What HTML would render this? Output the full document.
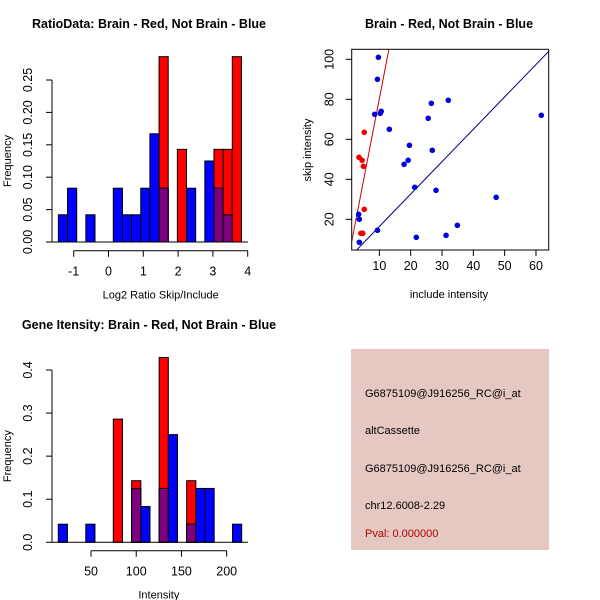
<!DOCTYPE html>
<html><head><meta charset="utf-8">
<style>
html,body{margin:0;padding:0;background:#fff;}
svg{display:block;font-family:"Liberation Sans",Arial,sans-serif;}
</style></head>
<body>
<svg id="c" width="600" height="600" viewBox="0 0 600 600">
<rect width="600" height="600" fill="#fff"/>
<g id="p1"></g>
<g id="p2"></g>
<g id="p3"></g>
<g id="p4">
<rect x="351" y="349" width="198" height="201" fill="#E6C8C2"/>
<text x="365" y="397" font-size="11" fill="#000">G6875109@J916256_RC@i_at</text>
<text x="365" y="434" font-size="11" fill="#000">altCassette</text>
<text x="365" y="472" font-size="11" fill="#000">G6875109@J916256_RC@i_at</text>
<text x="365" y="509" font-size="11" fill="#000">chr12.6008-2.29</text>
<text x="365" y="537" font-size="11" fill="#b00000">Pval: 0.000000</text>
</g>
</svg>
<script>
// ---- Panel 1: Ratio histogram data ----
const ratioBinStart = -1.44;
const ratioBinWidth = 0.263;
const ratioBlueBins = [0,1,3,6,7,8,9,10,11,14,16,17,18];
const ratioBlueFreq = [0.042,0.083,0.042,0.083,0.042,0.042,0.083,0.167,0.083,0.083,0.125,0.083,0.042];
const ratioRedBins = [11,13,17,18,19];
const ratioRedFreq = [0.286,0.143,0.143,0.143,0.286];
const ratioXTicks = [-1,0,1,2,3,4];
const ratioYTicks = ["0.00","0.05","0.10","0.15","0.20","0.25"];

// ---- Panel 2: scatter data ----
const blueInclude = [9.7,9.4,8.5,10.3,10.6,13.2,25.6,26.6,32,19.6,19.2,17.9,26.9,21.3,28.1,47.3,61.7,34.9,31.3,21.8,9.4,3.4,3.6,3.6];
const blueSkip =    [101,90,72.5,73,74,65,70.5,78,79.5,57,49.5,47.5,54.5,36,34.5,31,72,17,12,11,14.5,22.5,20,8.5];
const redInclude = [5.2,3.5,4.5,4.9,5.2,4.1,4.7];
const redSkip =    [63.5,51,49.5,46.5,25,13,13];
const fitSlopes = [1.62,8.1];
const fitIntercepts = [0.2,-0.7];
const scatterXTicks = [10,20,30,40,50,60];
const scatterYTicks = [20,40,60,80,100];

// ---- Panel 3: Intensity histogram data ----
const intBinStart = 13.8;
const intBinWidth = 10.14;
const intBlueBins = [0,3,8,9,11,12,14,15,16,19];
const intBlueFreq = [0.042,0.042,0.125,0.083,0.125,0.25,0.042,0.125,0.125,0.042];
const intRedBins = [6,8,11,14];
const intRedFreq = [0.286,0.143,0.429,0.143];
const intXTicks = [50,100,150,200];
const intYTicks = ["0.0","0.1","0.2","0.3","0.4"];

const NS="http://www.w3.org/2000/svg";
function mk(parent,tag,attrs,txt){const e=document.createElementNS(NS,tag);for(const k in attrs)e.setAttribute(k,attrs[k]);if(txt!==undefined)e.textContent=txt;parent.appendChild(e);return e;}

function histogram(g,o){
  const sx=v=>o.x0+(v-o.xv0)*o.xk, sy=v=>o.y0-v*o.yk;
  const blue={},red={};
  o.bb.forEach((b,i)=>blue[b]=o.bf[i]);
  o.rb.forEach((b,i)=>red[b]=o.rf[i]);
  const bins=new Set([...o.bb,...o.rb]);
  bins.forEach(b=>{
    const l=sx(o.bs+b*o.bw), r=sx(o.bs+(b+1)*o.bw);
    const hb=blue[b]||0, hr=red[b]||0;
    if(hr>0){const e=mk(g,'rect',{x:l,y:sy(hr),width:r-l,height:sy(0)-sy(hr),fill:'#ff0000',stroke:'#000','stroke-width':1});
      
      }
    if(hb>0){const e=mk(g,'rect',{x:l,y:sy(hb),width:r-l,height:sy(0)-sy(hb),fill:'#0000ff',stroke:'#000','stroke-width':1});
      
      }
    if(hb>0&&hr>0){const m=Math.min(hb,hr);const e=mk(g,'rect',{x:l,y:sy(m),width:r-l,height:sy(0)-sy(m),fill:'#7f007f',stroke:'#000','stroke-width':1});
      
      }
  });
  const yv=o.yt.map(Number);
  const ya=mk(g,'line',{x1:o.yx,x2:o.yx,y1:sy(yv[0]),y2:sy(yv[yv.length-1]),stroke:'#000'});
  
  
  o.yt.forEach(t=>{const y=sy(Number(t));mk(g,'line',{x1:o.yx-6,x2:o.yx,y1:y,y2:y,stroke:'#000'});
    const lx=o.yx-20;
    const e=mk(g,'text',{x:lx,y:y,'font-size':12.5,'text-anchor':'middle',transform:`rotate(-90 ${lx} ${y})`},t);
    
    });
  const xa=mk(g,'line',{x1:sx(o.xt[0]),x2:sx(o.xt[o.xt.length-1]),y1:o.xy,y2:o.xy,stroke:'#000'});
  
  
  o.xt.forEach(t=>{const x=sx(t);mk(g,'line',{x1:x,x2:x,y1:o.xy,y2:o.xy+6,stroke:'#000'});
    const e=mk(g,'text',{x:x,y:o.xy+25,'font-size':12.5,'text-anchor':'middle'},String(t));
    
    });
  mk(g,'line',{x1:o.bl0,x2:o.bl1,y1:sy(0),y2:sy(0),stroke:'#000'});
  const t=mk(g,'text',{x:o.tx,y:o.ty,'font-size':12.5,'font-weight':'bold','text-anchor':'middle'},o.title);
  
  
  const xl=mk(g,'text',{x:(sx(o.xt[0])+sx(o.xt[o.xt.length-1]))/2,y:o.xy+48,'font-size':11,'text-anchor':'middle'},o.xlab);
  
  
  const yc=o.y0-(o.y0-sy(yv[yv.length-1]))/2;
  const yl=mk(g,'text',{x:11,y:yc,'font-size':11,'text-anchor':'middle',transform:`rotate(-90 11 ${yc})`},'Frequency');
  
  
}

histogram(document.getElementById('p1'),{x0:73.7,xv0:-1,xk:34.8,y0:242,yk:648,
  bs:ratioBinStart,bw:ratioBinWidth,bb:ratioBlueBins,bf:ratioBlueFreq,rb:ratioRedBins,rf:ratioRedFreq,
  xt:ratioXTicks,yt:ratioYTicks,yx:52,xy:250.7,bl0:52,bl1:248,tx:149,ty:28,
  title:'RatioData: Brain - Red, Not Brain - Blue',xlab:'Log2 Ratio Skip/Include'});

histogram(document.getElementById('p3'),{x0:45.8,xv0:0,xk:0.9044,y0:542.3,yk:430.8,
  bs:intBinStart,bw:intBinWidth,bb:intBlueBins,bf:intBlueFreq,rb:intRedBins,rf:intRedFreq,
  xt:intXTicks,yt:intYTicks,yx:52,xy:550.7,bl0:52,bl1:248,tx:149,ty:329,
  title:'Gene Itensity: Brain - Red, Not Brain - Blue',xlab:'Intensity'});

(function(){
  const g=document.getElementById('p2');
  const L=351.7,R=548.7,T=49.3,B=250;
  const xmin=1.18,xmax=64.06,ymin=4.65,ymax=105;
  const sx=v=>L+(v-xmin)/(xmax-xmin)*(R-L), sy=v=>B-(v-ymin)/(ymax-ymin)*(B-T);
  const defs=mk(g,'clipPath',{id:'clip'});mk(defs,'rect',{x:L,y:T,width:R-L,height:B-T});
  const cols=['#00008b','#cc0000'];
  fitSlopes.forEach((m,i)=>{const b=fitIntercepts[i];
    const e=mk(g,'line',{x1:sx(xmin),y1:sy(m*xmin+b),x2:sx(xmax),y2:sy(m*xmax+b),stroke:cols[i],'stroke-width':1,'clip-path':'url(#clip)'});
    
    });
  blueInclude.forEach((v,i)=>{const e=mk(g,'circle',{cx:sx(v),cy:sy(blueSkip[i]),r:2.8,fill:'#0000dd'});
    
    });
  redInclude.forEach((v,i)=>{const e=mk(g,'circle',{cx:sx(v),cy:sy(redSkip[i]),r:2.8,fill:'#ee0000'});
    
    });
  const box=mk(g,'rect',{x:L,y:T,width:R-L,height:B-T,fill:'none',stroke:'#000'});
  
  
  scatterXTicks.forEach(t=>{const x=sx(t);mk(g,'line',{x1:x,x2:x,y1:B,y2:B+6,stroke:'#000'});
    const e=mk(g,'text',{x:x,y:B+20,'font-size':12.5,'text-anchor':'middle'},String(t));
    
    });
  scatterYTicks.forEach(t=>{const y=sy(t);mk(g,'line',{x1:L-6,x2:L,y1:y,y2:y,stroke:'#000'});
    const lx=L-18;
    const e=mk(g,'text',{x:lx,y:y,'font-size':12.5,'text-anchor':'middle',transform:`rotate(-90 ${lx} ${y})`},String(t));
    
    });
  const t=mk(g,'text',{x:449,y:28,'font-size':12.5,'font-weight':'bold','text-anchor':'middle'},'Brain - Red, Not Brain - Blue');
  
  
  const xl=mk(g,'text',{x:449,y:298,'font-size':11,'text-anchor':'middle'},'include intensity');
  
  
  const yl=mk(g,'text',{x:311,y:150,'font-size':11,'text-anchor':'middle',transform:'rotate(-90 311 150)'},'skip intensity');
  
  
})();
</script>
</body></html>
